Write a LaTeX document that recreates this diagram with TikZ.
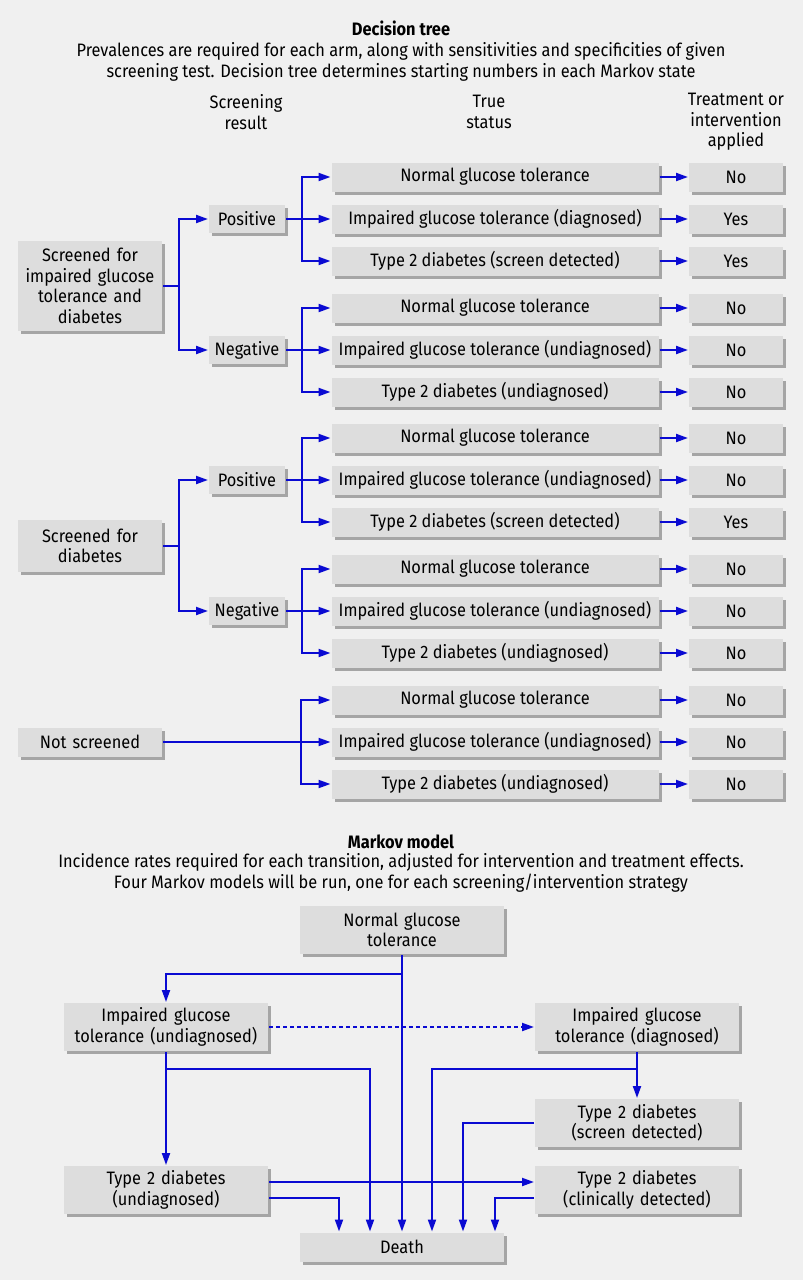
\documentclass[tikz,border=0pt]{standalone}
\usepackage{fontspec}
\setmainfont{Fira Sans}[FakeStretch=0.91]
\usetikzlibrary{arrows.meta,shadows,positioning}
\definecolor{linkblue}{RGB}{10,10,210}
\definecolor{boxgrey}{RGB}{221,221,221}
\definecolor{shadowgrey}{RGB}{165,165,165}
\definecolor{bggrey}{RGB}{240,240,240}

\begin{document}
\begin{tikzpicture}[x=1pt,y=1pt,->,>={Triangle[length=12pt,width=8pt]},line width=2pt,draw=linkblue,font=\fontsize{18}{20.5}\selectfont]
        \tikzstyle{box}=[draw=none, fill=boxgrey, text=black, inner sep=2pt, align=center, drop shadow={shadow xshift=3pt, shadow yshift=-3pt, fill=shadowgrey, opacity=1}]
        \tikzstyle{note}=[text=black, align=center, inner sep=0pt]
        \tikzstyle{status}=[box, minimum width=327pt, minimum height=29pt]
        \tikzstyle{outcome}=[box, minimum width=94pt, minimum height=29pt]
        \tikzstyle{result}=[box, minimum width=76pt, minimum height=28pt]
        \tikzstyle{arm}=[box, text width=140pt]
        \tikzstyle{mstate}=[box, text width=200pt, minimum height=48pt]

        \fill[bggrey, draw=none] (0,0) rectangle (803,-1280);
        \useasboundingbox (0,0) rectangle (803,-1280);

        % decision tree
        \node[note] (dttitle) at (401,-28) {\textbf{Decision tree}};
        \node[note] (dtnote) at (401,-62) {Prevalences are required for each arm, along with sensitivities and specificities of given\\screening test. Decision tree determines starting numbers in each Markov state};
        \node[note] (colscreen) at (246,-112) {Screening\\result};
        \node[note] (coltrue) at (489,-112) {True\\status};
        \node[note] (coltreat) at (736,-122) {Treatment or\\intervention\\applied};

        \node[arm, minimum height=90pt] (arm1) at (90,-286) {Screened for\\impaired glucose\\tolerance and\\diabetes};
        \node[arm, minimum height=52pt] (arm2) at (90,-546) {Screened for\\diabetes};
        \node[arm, minimum height=29pt] (arm3) at (90,-742) {Not screened};

        \node[result] (pos1) at (247,-219) {Positive};
        \node[result] (neg1) at (247,-350) {Negative};
        \node[result] (pos2) at (247,-480) {Positive};
        \node[result] (neg2) at (247,-611) {Negative};

        \node[status] (a1) at (495,-177) {Normal glucose tolerance};
        \node[status] (a2) at (495,-219) {Impaired glucose tolerance (diagnosed)};
        \node[status] (a3) at (495,-261) {Type 2 diabetes (screen detected)};
        \node[status] (b1) at (495,-308) {Normal glucose tolerance};
        \node[status] (b2) at (495,-350) {Impaired glucose tolerance (undiagnosed)};
        \node[status] (b3) at (495,-392) {Type 2 diabetes (undiagnosed)};
        \node[status] (c1) at (495,-438) {Normal glucose tolerance};
        \node[status] (c2) at (495,-480) {Impaired glucose tolerance (undiagnosed)};
        \node[status] (c3) at (495,-522) {Type 2 diabetes (screen detected)};
        \node[status] (d1) at (495,-569) {Normal glucose tolerance};
        \node[status] (d2) at (495,-611) {Impaired glucose tolerance (undiagnosed)};
        \node[status] (d3) at (495,-653) {Type 2 diabetes (undiagnosed)};
        \node[status] (e1) at (495,-700) {Normal glucose tolerance};
        \node[status] (e2) at (495,-742) {Impaired glucose tolerance (undiagnosed)};
        \node[status] (e3) at (495,-784) {Type 2 diabetes (undiagnosed)};

        \node[outcome] (ra1) at (736,-177) {No};
        \node[outcome] (ra2) at (736,-219) {Yes};
        \node[outcome] (ra3) at (736,-261) {Yes};
        \node[outcome] (rb1) at (736,-308) {No};
        \node[outcome] (rb2) at (736,-350) {No};
        \node[outcome] (rb3) at (736,-392) {No};
        \node[outcome] (rc1) at (736,-438) {No};
        \node[outcome] (rc2) at (736,-480) {No};
        \node[outcome] (rc3) at (736,-522) {Yes};
        \node[outcome] (rd1) at (736,-569) {No};
        \node[outcome] (rd2) at (736,-611) {No};
        \node[outcome] (rd3) at (736,-653) {No};
        \node[outcome] (re1) at (736,-700) {No};
        \node[outcome] (re2) at (736,-742) {No};
        \node[outcome] (re3) at (736,-784) {No};

        \draw (arm1.east) -- ++(16,0) |- (pos1.west);
        \draw (arm1.east) -- ++(16,0) |- (neg1.west);
        \draw (arm2.east) -- ++(16,0) |- (pos2.west);
        \draw (arm2.east) -- ++(16,0) |- (neg2.west);

        \draw (pos1.east) -- ++(16,0) |- (a1.west);
        \draw (pos1.east) -- (a2.west);
        \draw (pos1.east) -- ++(16,0) |- (a3.west);
        \draw (neg1.east) -- ++(16,0) |- (b1.west);
        \draw (neg1.east) -- (b2.west);
        \draw (neg1.east) -- ++(16,0) |- (b3.west);
        \draw (pos2.east) -- ++(16,0) |- (c1.west);
        \draw (pos2.east) -- (c2.west);
        \draw (pos2.east) -- ++(16,0) |- (c3.west);
        \draw (neg2.east) -- ++(16,0) |- (d1.west);
        \draw (neg2.east) -- (d2.west);
        \draw (neg2.east) -- ++(16,0) |- (d3.west);
        \draw (arm3.east) -- ++(138,0) |- (e1.west);
        \draw (arm3.east) -- (e2.west);
        \draw (arm3.east) -- ++(138,0) |- (e3.west);

        \draw (a1) -- (ra1); \draw (a2) -- (ra2); \draw (a3) -- (ra3);
        \draw (b1) -- (rb1); \draw (b2) -- (rb2); \draw (b3) -- (rb3);
        \draw (c1) -- (rc1); \draw (c2) -- (rc2); \draw (c3) -- (rc3);
        \draw (d1) -- (rd1); \draw (d2) -- (rd2); \draw (d3) -- (rd3);
        \draw (e1) -- (re1); \draw (e2) -- (re2); \draw (e3) -- (re3);

        % markov model
        \node[note] (mmtitle) at (401,-842) {\textbf{Markov model}};
        \node[note] (mmnote) at (401,-873) {Incidence rates required for each transition, adjusted for intervention and treatment effects.\\Four Markov models will be run, one for each screening/intervention strategy};

        \node[mstate] (ngt) at (402,-930) {Normal glucose\\tolerance};
        \node[mstate] (igtu) at (166,-1027) {Impaired glucose\\tolerance (undiagnosed)};
        \node[mstate] (igtd) at (637,-1027) {Impaired glucose\\tolerance (diagnosed)};
        \node[mstate] (tsd) at (637,-1123) {Type 2 diabetes\\(screen detected)};
        \node[mstate] (tud) at (166,-1190) {Type 2 diabetes\\(undiagnosed)};
        \node[mstate] (tcd) at (637,-1190) {Type 2 diabetes\\(clinically detected)};
        \node[mstate, minimum height=29pt] (death) at (402,-1247) {Death};

        \draw (ngt) -- (death);
        \draw (ngt.south) -- ++(0,-19) -| (igtu.north);
        \draw[dash pattern=on 4pt off 3pt] (igtu) -- (igtd);
        \draw (igtu) -- (tud);
        \draw (igtu.south) -- ++(0,-17) -| ([xshift=-32pt]death.north);
        \draw (igtd) -- (tsd);
        \draw (igtd.south) -- ++(0,-17) -| ([xshift=30pt]death.north);
        \draw (tsd.west) -| ([xshift=61pt]death.north);
        \draw ([yshift=8pt]tud.east) -- ([yshift=8pt]tcd.west);
        \draw ([yshift=-8pt]tud.east) -| ([xshift=-63pt]death.north);
        \draw ([yshift=-8pt]tcd.west) -| ([xshift=93pt]death.north);

      \end{tikzpicture}
\end{document}
